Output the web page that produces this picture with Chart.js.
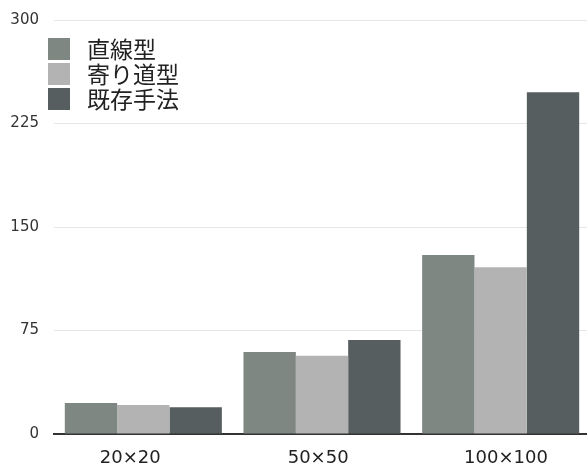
<!DOCTYPE html>
<html lang="ja">
<head>
    <meta charset="UTF-8">
    <title>比較グラフ</title>
    <script src="https://cdn.jsdelivr.net/npm/chart.js"></script>
    <style>
        html, body {
            margin: 0;
            padding: 0;
            background: #ffffff;
            overflow: hidden;
            font-family: "Noto Sans CJK JP", "Noto Sans", sans-serif;
        }
        .wrap {
            position: relative;
            width: 587px;
            height: 465px;
            overflow: hidden;
        }
        .legend {
            position: absolute;
            left: 48px;
            top: 36px;
            font-size: 23px;
            color: #222;
            line-height: 25px;
        }
        .legend div {
            display: flex;
            align-items: center;
            height: 25px;
        }
        .legend span.box {
            display: inline-block;
            width: 22px;
            height: 22px;
            margin-right: 17px;
        }
    </style>
</head>
<body>
<div class="wrap">
    <canvas id="chart" width="590" height="465"></canvas>
    <div class="legend" id="legend"></div>
</div>
<script>
    // データ
    const categories = ['20×20', '50×50', '100×100'];
    const seriesNames = ['直線型', '寄り道型', '既存手法'];
    const chokusen = [22.5, 59.5, 129.7];
    const yorimichi = [21, 56.7, 120.8];
    const kizon = [19.3, 68.1, 247.6];
    const yTicks = [0, 75, 150, 225, 300];
    const colors = ['#7f8783', '#b3b3b3', '#565e5f'];

    const values = [chokusen, yorimichi, kizon];

    // 凡例 (HTML)
    const legend = document.getElementById('legend');
    seriesNames.forEach((name, i) => {
        const row = document.createElement('div');
        const box = document.createElement('span');
        box.className = 'box';
        box.style.background = colors[i];
        row.appendChild(box);
        row.appendChild(document.createTextNode(name));
        legend.appendChild(row);
    });

    const ctx = document.getElementById('chart').getContext('2d');
    new Chart(ctx, {
        type: 'bar',
        data: {
            labels: categories,
            datasets: seriesNames.map((name, i) => ({
                label: name,
                data: values[i],
                backgroundColor: colors[i],
                borderWidth: 0,
                barPercentage: 1,
                categoryPercentage: 0.879
            }))
        },
        options: {
            responsive: false,
            animation: false,
            layout: {
                padding: { top: 20, right: 0, left: 0, bottom: 0 }
            },
            plugins: {
                legend: { display: false },
                tooltip: { enabled: false }
            },
            scales: {
                x: {
                    grid: { display: false, drawTicks: false },
                    border: { color: '#333', width: 2 },
                    afterFit: (axis) => { axis.height = 2; },
                    ticks: { display: false }
                },
                // 元の図ではラベルが棒の中心から少しずれているので別軸で描く
                xLabels: {
                    type: 'linear',
                    position: 'bottom',
                    offset: false,
                    min: -0.406,
                    max: 2.447,
                    afterBuildTicks: (axis) => {
                        axis.ticks = categories.map((c, i) => ({ value: i }));
                    },
                    afterFit: (axis) => { axis.height = 29; },
                    grid: { display: false, drawTicks: false, offset: false },
                    border: { display: false },
                    ticks: {
                        color: '#222',
                        font: { family: '"DejaVu Sans"', size: 18 },
                        padding: 12,
                        callback: (v) => categories[v]
                    }
                },
                y: {
                    min: 0,
                    max: 300,
                    afterBuildTicks: (axis) => {
                        axis.ticks = yTicks.map(v => ({ value: v }));
                    },
                    afterFit: (axis) => {
                        axis.width = 54;
                        axis.paddingTop = 0;
                        axis.paddingBottom = 0;
                    },
                    grid: { color: '#e6e6e6', drawTicks: false },
                    border: { display: false },
                    ticks: {
                        color: '#333',
                        font: { family: '"DejaVu Sans"', size: 15 },
                        padding: 15
                    }
                }
            }
        }
    });
</script>
</body>
</html>
